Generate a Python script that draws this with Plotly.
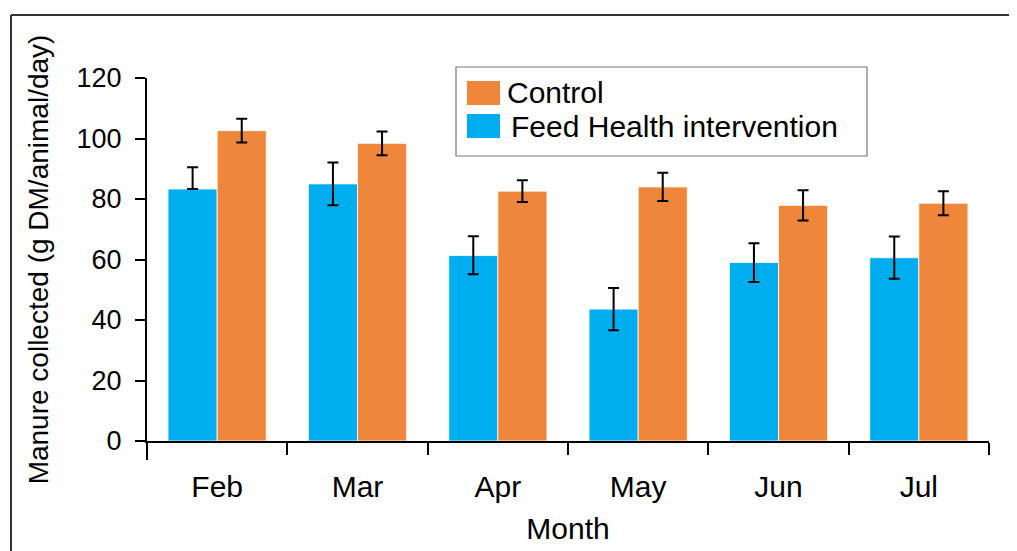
import plotly.graph_objects as go

months = ["Feb", "Mar", "Apr", "May", "Jun", "Jul"]
feed_health = [83.3, 85.0, 61.3, 43.6, 59.0, 60.6]
feed_health_err_plus = [7.2, 7.1, 6.4, 7.0, 6.4, 7.0]
feed_health_err_minus = [0.0, 7.1, 6.2, 7.0, 6.4, 7.0]
control = [102.6, 98.4, 82.6, 84.0, 77.9, 78.6]
control_err = [3.9, 3.9, 3.6, 4.7, 5.0, 4.0]
yticks = [0, 20, 40, 60, 80, 100, 120]

BLUE = "#00AEEF"
ORANGE = "#EE873B"
FONT = "Liberation Sans, Arial, sans-serif"

# the page body has an 8px default margin; work in window pixels and convert
OFF = 8
W, H = 1017 - OFF, 551 - OFF
ML, MT = 147 - OFF, 78 - OFF
MR, MB = 1017 - 989, 551 - 441
PW, PH = W - ML - MR, H - MT - MB


def px(x):
    return (x - OFF - ML) / PW


def py(y):
    return (H - MB - (y - OFF)) / PH


fig = go.Figure()
fig.add_trace(go.Bar(
    x=months, y=feed_health, name="Feed Health intervention",
    marker=dict(color=BLUE, line=dict(color="white", width=0.8)),
    error_y=dict(type="data", array=feed_health_err_plus, arrayminus=feed_health_err_minus,
                 color="black", thickness=2, width=5.5),
    showlegend=False,
))
fig.add_trace(go.Bar(
    x=months, y=control, name="Control",
    marker=dict(color=ORANGE, line=dict(color="white", width=0.8)),
    error_y=dict(type="data", array=control_err, color="black", thickness=2, width=5.5),
    showlegend=False,
))

shapes = [
    # outer frame
    dict(type="line", xref="paper", yref="paper", x0=px(11), x1=px(1030), y0=py(15), y1=py(15),
         line=dict(color="#333333", width=2)),
    dict(type="line", xref="paper", yref="paper", x0=px(11), x1=px(11), y0=py(15), y1=py(570),
         line=dict(color="#333333", width=2)),
    # y axis extension below zero
    dict(type="line", xref="paper", yref="paper", x0=0, x1=0, y0=0, y1=py(460),
         line=dict(color="black", width=2)),
    # legend box
    dict(type="rect", xref="paper", yref="paper", x0=px(456), x1=px(867), y0=py(156), y1=py(67),
         line=dict(color="#777777", width=1.2), fillcolor="white"),
    dict(type="rect", xref="paper", yref="paper", x0=px(467), x1=px(500), y0=py(105), y1=py(81),
         line=dict(width=0), fillcolor=ORANGE),
    dict(type="rect", xref="paper", yref="paper", x0=px(467), x1=px(500), y0=py(138), y1=py(114),
         line=dict(width=0), fillcolor=BLUE),
]

annotations = [
    dict(xref="paper", yref="paper", x=px(505), y=py(93), text="Control", showarrow=False,
         xanchor="left", yanchor="middle", font=dict(family=FONT, size=30, color="black")),
    dict(xref="paper", yref="paper", x=px(509), y=py(126), text="Feed Health intervention",
         showarrow=False, xanchor="left", yanchor="middle",
         font=dict(family=FONT, size=30, color="black")),
]

fig.update_layout(
    width=W, height=H,
    margin=dict(l=ML, r=MR, t=MT, b=MB, pad=0),
    paper_bgcolor="white", plot_bgcolor="white",
    barmode="group", bargap=0.3, bargroupgap=0,
    font=dict(family=FONT, color="black"),
    shapes=shapes, annotations=annotations,
    xaxis=dict(
        showline=True, linecolor="black", linewidth=2,
        ticks="outside", tickson="boundaries", ticklen=12, tickwidth=2, tickcolor="black",
        tickfont=dict(size=30), ticklabelstandoff=18,
        showgrid=False, zeroline=False,
        title=dict(text="Month", font=dict(size=30), standoff=16),
    ),
    yaxis=dict(
        range=[0, 120], tickvals=yticks,
        showline=True, linecolor="black", linewidth=2,
        ticks="outside", ticklen=10, tickwidth=2, tickcolor="black",
        tickfont=dict(size=27), ticklabelstandoff=8,
        showgrid=False, zeroline=False,
        title=dict(text="Manure collected (g DM/animal/day)", font=dict(size=28), standoff=20),
    ),
)

fig.write_html("out.html")
